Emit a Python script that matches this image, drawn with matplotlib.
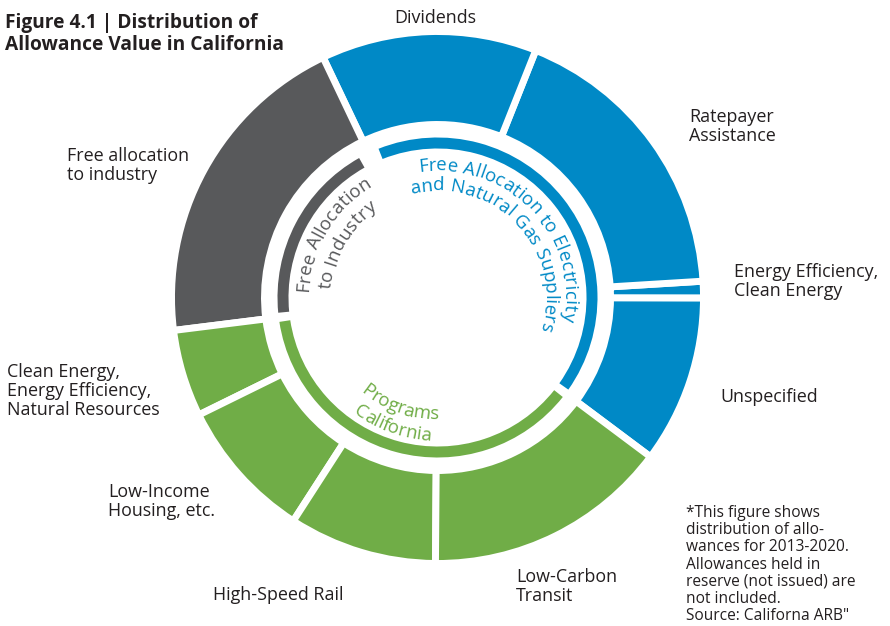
import numpy as np
import matplotlib.pyplot as plt
from matplotlib.patches import Wedge
from matplotlib.font_manager import FontProperties, findfont, get_font

W, H = 890, 626
DPI = 100
FONT = 'Open Sans'

# allowance shares (%), counter-clockwise from "Unspecified"
segments = ['Unspecified', 'Energy Efficiency, Clean Energy', 'Ratepayer Assistance',
            'Dividends', 'Free allocation to industry',
            'Clean Energy, Energy Efficiency, Natural Resources',
            'Low-Income Housing, etc.', 'High-Speed Rail', 'Low-Carbon Transit']
shares = [10.2, 1.0, 18.0, 13.1, 19.9, 5.3, 8.6, 9.0, 14.9]
group_of = ['elec', 'elec', 'elec', 'elec', 'ind', 'prog', 'prog', 'prog', 'prog']

groups = ['elec', 'ind', 'prog']
group_titles = {
    'elec': ['Free Allocation to Electricity', 'and Natural Gas Suppliers'],
    'ind': ['Free Allocation', 'to Industry'],
    'prog': ['Programs', 'California'],
}

BLUE, GRAY, GREEN = '#0089c6', '#58595b', '#70ad47'
colors = {'elec': BLUE, 'ind': GRAY, 'prog': GREEN}
TXT = '#231f20'

cx, cy = 437.5, H - 297.5
start = 323.2

fig = plt.figure(figsize=(W / DPI, H / DPI), dpi=DPI)
ax = fig.add_axes([0, 0, 1, 1])

# outer ring
ax.pie(shares, colors=[colors[g] for g in group_of], startangle=start,
       counterclock=True, center=(cx, cy), radius=266,
       wedgeprops=dict(width=93, edgecolor='white', linewidth=5))

# inner thin ring, one arc per group
group_sums = [sum(s for s, g in zip(shares, group_of) if g == k) for k in groups]
edges = start + np.concatenate([[0], np.cumsum(group_sums)]) * 3.6
gaps = [3.3, 7.7, 3.3]  # gap at the start of each arc, degrees
for i, k in enumerate(groups):
    t1 = edges[i] + gaps[i] / 2
    t2 = edges[i + 1] - gaps[(i + 1) % 3] / 2
    ax.add_patch(Wedge((cx, cy), 160, t1, t2, width=11, color=colors[k], lw=0))


def advances(s, prop):
    font = get_font(findfont(prop))
    font.set_size(prop.get_size_in_points(), DPI)
    out = []
    for ch in s:
        g = font.load_char(ord(ch))
        out.append(g.linearHoriAdvance / 65536)
    return np.array(out)


def arc_text(s, mid, r, color, size, clockwise=True):
    prop = FontProperties(family=FONT, size=size)
    adv = advances(s, prop)
    pos = np.cumsum(adv) - adv / 2 - adv.sum() / 2
    for ch, p in zip(s, pos):
        if clockwise:
            th = np.radians(mid) - p / r
            rot = np.degrees(th) - 90
        else:
            th = np.radians(mid) + p / r
            rot = np.degrees(th) + 90
        ax.text(cx + r * np.cos(th), cy + r * np.sin(th), ch, fontproperties=prop,
                color=color, rotation=rot, rotation_mode='anchor',
                ha='center', va='baseline')


arc_text(group_titles['elec'][0], 44, 127, BLUE, 13.5)
arc_text(group_titles['elec'][1], 43, 107, BLUE, 13.5)
arc_text(group_titles['ind'][0], 149, 129, GRAY, 13.5)
arc_text(group_titles['ind'][1], 150, 107, GRAY, 13.5)
arc_text(group_titles['prog'][0], 250.7, 122, GREEN, 13.5, clockwise=False)
arc_text(group_titles['prog'][1], 250.5, 143, GREEN, 13.5, clockwise=False)

# outer labels: lines, x, first baseline (px from top), alignment
labels = [
    (['Dividends'], 435, 23, 'center'),
    (['Ratepayer', 'Assistance'], 689, 122, 'left'),
    (['Energy Efficiency,', 'Clean Energy'], 734, 277, 'left'),
    (['Unspecified'], 720, 402, 'left'),
    (['Low-Carbon', 'Transit'], 516, 582, 'left'),
    (['High-Speed Rail'], 213, 600, 'left'),
    (['Low-Income', 'Housing, etc.'], 108, 497, 'left'),
    (['Clean Energy,', 'Energy Efficiency,', 'Natural Resources'], 7, 377, 'left'),
    (['Free allocation', 'to industry'], 67, 161, 'left'),
]
for lines, x, y0, ha in labels:
    for j, line in enumerate(lines):
        ax.text(x, H - (y0 + 19 * j), line, family=FONT, fontsize=12.9, color=TXT,
                ha=ha, va='baseline')

title = ['Figure 4.1 | Distribution of', 'Allowance Value in California']
for j, line in enumerate(title):
    ax.text(5, H - (28 + 22 * j), line, family=FONT, fontsize=13.8,
            fontweight='bold', color=TXT, ha='left', va='baseline')

note = ['*This figure shows', 'distribution of allo-', 'wances for 2013-2020.',
        'Allowances held in', 'reserve (not issued) are', 'not included.',
        'Source: Californa ARB"']
for j, line in enumerate(note):
    ax.text(686, H - (517 + 17.2 * j), line, family=FONT, fontsize=11.2, color=TXT,
            ha='left', va='baseline')

ax.set_xlim(0, W)
ax.set_ylim(0, H)
ax.set_aspect('equal')
ax.axis('off')
fig.savefig('out.png', dpi=DPI)
